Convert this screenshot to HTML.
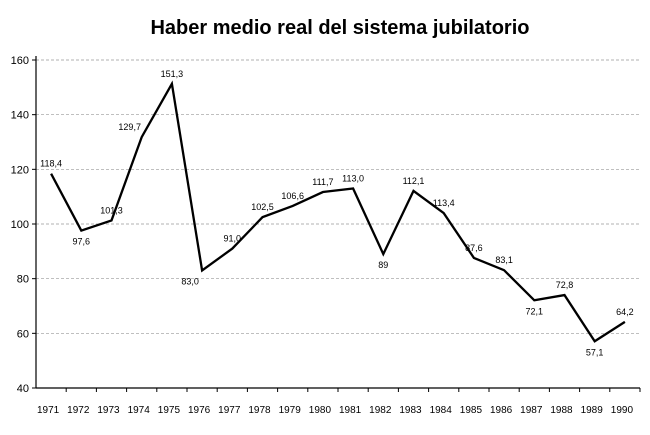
<!DOCTYPE html>
<html><head><meta charset="utf-8"><style>
body{margin:0;background:#fff;width:650px;height:430px;overflow:hidden;font-family:"Liberation Sans",Arial,sans-serif}
</style></head><body>
<svg width="650" height="430">
<text x="340" y="34" text-anchor="middle" font-size="20" font-weight="bold">Haber medio real del sistema jubilatorio</text>
<g id="grid"></g><g id="axes"></g><g id="series"></g>
</svg>
<script>
const years=["1971","1972","1973","1974","1975","1976","1977","1978","1979","1980","1981","1982","1983","1984","1985","1986","1987","1988","1989","1990"];
const values=[118.4,97.6,101.3,131.8,151.3,83.0,91.0,102.5,106.6,111.7,113.0,89,112.1,104,87.6,83.1,72.1,74,57.1,64.2];
const printed=["118,4","97,6","101,3","129,7","151,3","83,0","91,0","102,5","106,6","111,7","113,0","89","112,1","113,4","87,6","83,1","72,1","72,8","57,1","64,2"];
const yTicks=[40,60,80,100,120,140,160];
const NS="http://www.w3.org/2000/svg";
const X0=36,X1=640,Y0=388,Y1=60;
const bw=(X1-X0)/years.length;
const xs=i=>X0+bw*(i+0.5);
const ys=v=>Y0-(v-40)/(160-40)*(Y0-Y1);
function mk(tag,p,a){const e=document.createElementNS(NS,tag);for(const k in a)e.setAttribute(k,a[k]);p.appendChild(e);return e;}
const grid=document.getElementById('grid'),axes=document.getElementById('axes'),ser=document.getElementById('series');
yTicks.forEach(t=>{
 if(t>40){const l=mk('line',grid,{x1:X0,x2:X1,y1:ys(t),y2:ys(t),stroke:'#999','stroke-dasharray':'3,2','stroke-width':0.7});
 
 }
 const tk=mk('line',axes,{x1:X0-4,x2:X0,y1:ys(t),y2:ys(t),stroke:'#000'});
 
 
 const tx=mk('text',axes,{x:X0-7,y:ys(t)+4,'text-anchor':'end','font-size':11});
 tx.textContent=t;
 
 
});
const ya=mk('line',axes,{x1:X0,x2:X0,y1:Y1-4,y2:Y0,stroke:'#000','stroke-width':1.2});


const xa=mk('line',axes,{x1:X0,x2:X1,y1:Y0,y2:Y0,stroke:'#000','stroke-width':1.2});


years.forEach((y,i)=>{
 const tk=mk('line',axes,{x1:X0+bw*(i+1),x2:X0+bw*(i+1),y1:Y0,y2:Y0+4,stroke:'#000'});
 
 
 const tx=mk('text',axes,{x:xs(i)-3,y:Y0+25,'text-anchor':'middle','font-size':10});
 tx.textContent=y;
 
 
});
const pl=mk('polyline',ser,{points:values.map((v,i)=>xs(i)+','+ys(v)).join(' '),fill:'none',stroke:'#000','stroke-width':2.3,'stroke-linejoin':'miter'});


values.forEach((v,i)=>{
 const prev=i>0?values[i-1]:v, next=i<values.length-1?values[i+1]:v;
 const below=v<prev&&v<next;
 const tx=mk('text',ser,{x:xs(i)-(i==3||i==5?12:0),y:below?ys(v)+14:ys(v)-7,'text-anchor':'middle','font-size':9});
 tx.textContent=printed[i];
 
 
});
</script>
</body></html>
